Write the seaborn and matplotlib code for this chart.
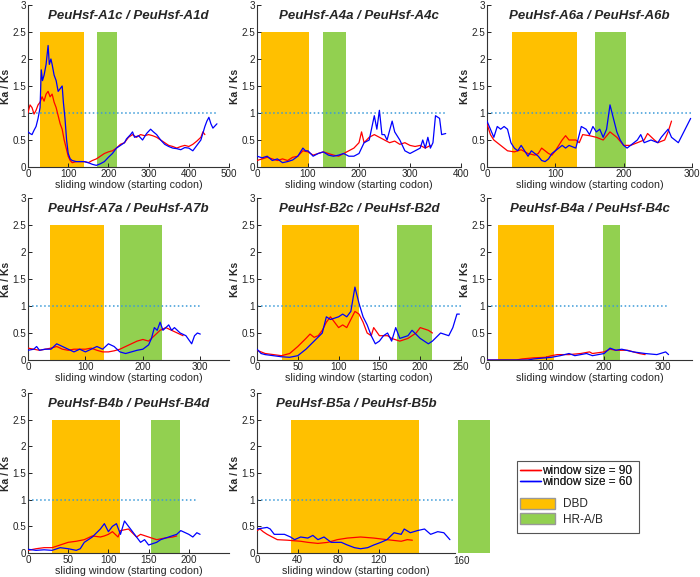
import numpy as np
import matplotlib
matplotlib.use("Agg")
import matplotlib.pyplot as plt
from matplotlib.lines import Line2D
from matplotlib.patches import Patch, Rectangle
import seaborn as sns

sns.set_style("ticks")
plt.rcParams['font.family'] = ['Liberation Sans', 'DejaVu Sans']

titles = ["PeuHsf-A1c / PeuHsf-A1d", "PeuHsf-A4a / PeuHsf-A4c", "PeuHsf-A6a / PeuHsf-A6b",
          "PeuHsf-A7a / PeuHsf-A7b", "PeuHsf-B2c / PeuHsf-B2d", "PeuHsf-B4a / PeuHsf-B4c",
          "PeuHsf-B4b / PeuHsf-B4d", "PeuHsf-B5a / PeuHsf-B5b"]

# domain regions (start, end) in codons
dbd = [(30, 140), (8, 102), (37, 132), (39, 133), (31, 125), (19, 114), (30, 114), (33, 160)]
hr = [(172, 222), (130, 174), (158, 203), (161, 233), (171, 215), (198, 227), (153, 189), (198, 229)]
xmax = [500, 400, 300, 350, 250, 350, 250, 195]
xticks = [[0, 100, 200, 300, 400, 500], [0, 100, 200, 300, 400], [0, 100, 200, 300],
          [0, 100, 200, 300], [0, 50, 100, 150, 200, 250], [0, 100, 200, 300],
          [0, 50, 100, 150, 200], [0, 40, 80, 120]]
dot_end = [470, 370, 300, 300, 250, 310, 211, 195]

# window size = 90 (red), (codon, Ka/Ks)
red = [
    [(0, 1.0), (5, 1.15), (10, 1.1), (15, 0.98), (20, 1.05), (25, 1.15), (30, 1.2), (35, 1.3),
     (40, 1.22), (45, 1.35), (50, 1.4), (55, 1.3), (60, 1.35), (65, 1.2), (70, 1.1), (75, 0.95),
     (80, 0.8), (85, 0.7), (90, 0.5), (95, 0.35), (100, 0.2), (105, 0.12), (110, 0.08), (120, 0.1),
     (130, 0.1), (140, 0.1), (150, 0.08), (160, 0.12), (170, 0.15), (180, 0.2), (190, 0.25),
     (200, 0.28), (210, 0.3), (220, 0.35), (230, 0.42), (240, 0.45), (250, 0.55), (260, 0.6),
     (270, 0.55), (280, 0.6), (290, 0.58), (300, 0.6), (310, 0.58), (320, 0.55), (330, 0.5),
     (340, 0.45), (350, 0.4), (360, 0.38), (370, 0.35), (380, 0.38), (390, 0.4), (400, 0.38),
     (410, 0.42), (420, 0.48), (430, 0.55), (435, 0.65), (440, 0.6)],
    [(0, 0.12), (10, 0.15), (20, 0.18), (30, 0.15), (40, 0.12), (50, 0.15), (60, 0.12),
     (70, 0.18), (80, 0.2), (90, 0.3), (100, 0.28), (110, 0.22), (120, 0.25), (130, 0.28),
     (140, 0.25), (150, 0.22), (160, 0.2), (170, 0.25), (180, 0.3), (190, 0.35), (200, 0.45),
     (205, 0.65), (210, 0.45), (220, 0.55), (230, 0.6), (240, 0.55), (250, 0.5), (260, 0.45),
     (270, 0.48), (280, 0.42), (290, 0.45), (300, 0.4), (310, 0.38), (320, 0.4), (330, 0.35),
     (340, 0.4)],
    [(0, 0.8), (5, 0.6), (10, 0.5), (20, 0.4), (30, 0.3), (40, 0.28), (50, 0.32), (60, 0.25),
     (70, 0.22), (75, 0.25), (80, 0.35), (90, 0.25), (95, 0.22), (100, 0.3), (105, 0.4),
     (110, 0.5), (115, 0.58), (120, 0.5), (130, 0.5), (135, 0.45), (140, 0.6), (150, 0.58),
     (160, 0.55), (170, 0.5), (180, 0.65), (190, 0.55), (200, 0.4), (210, 0.4), (220, 0.45),
     (230, 0.5), (235, 0.62), (245, 0.5), (250, 0.45), (260, 0.5), (265, 0.65), (270, 0.85)],
    [(0, 0.22), (10, 0.2), (20, 0.18), (30, 0.2), (40, 0.22), (50, 0.25), (60, 0.2), (70, 0.18),
     (80, 0.2), (90, 0.2), (100, 0.2), (110, 0.22), (120, 0.18), (130, 0.15), (140, 0.15),
     (150, 0.17), (160, 0.2), (170, 0.25), (180, 0.3), (190, 0.35), (200, 0.38), (210, 0.35),
     (220, 0.45), (230, 0.55), (240, 0.6), (250, 0.55), (260, 0.5), (270, 0.45)],
    [(0, 0.18), (10, 0.12), (20, 0.1), (30, 0.08), (40, 0.12), (50, 0.25), (60, 0.4), (65, 0.48),
     (70, 0.42), (75, 0.45), (80, 0.55), (85, 0.7), (90, 0.8), (95, 0.7), (100, 0.6), (105, 0.65),
     (110, 0.6), (115, 0.75), (120, 0.9), (125, 0.85), (130, 0.7), (135, 0.5), (140, 0.45),
     (143, 0.6), (150, 0.45), (160, 0.45), (165, 0.4), (175, 0.35), (185, 0.4), (195, 0.5),
     (200, 0.6), (210, 0.55), (215, 0.5)],
    [(0, 0.0), (50, 0.0), (60, 0.02), (80, 0.04), (100, 0.05), (110, 0.08), (120, 0.1),
     (140, 0.1), (160, 0.12), (175, 0.15), (180, 0.12), (200, 0.15), (210, 0.2), (220, 0.18),
     (240, 0.18), (250, 0.15), (260, 0.12), (270, 0.1)],
    [(0, 0.05), (10, 0.08), (20, 0.1), (30, 0.1), (40, 0.15), (50, 0.2), (60, 0.22), (70, 0.25),
     (80, 0.32), (90, 0.3), (95, 0.32), (100, 0.35), (105, 0.4), (112, 0.3), (115, 0.42),
     (125, 0.45), (135, 0.3), (140, 0.35), (150, 0.3), (160, 0.25), (170, 0.28), (180, 0.3),
     (185, 0.32)],
    [(0, 0.42), (3, 0.45), (6, 0.4), (10, 0.35), (15, 0.3), (20, 0.25), (30, 0.24), (43, 0.22),
     (50, 0.2), (60, 0.18), (70, 0.2), (79, 0.25), (89, 0.28), (102, 0.3), (115, 0.28),
     (128, 0.25), (142, 0.22), (148, 0.25), (153, 0.24)],
]

# window size = 60 (blue)
blue = [
    [(0, 0.65), (5, 0.62), (10, 0.6), (15, 0.68), (20, 0.75), (25, 0.9), (30, 1.1), (33, 1.8),
     (36, 1.6), (40, 1.7), (45, 1.9), (50, 2.25), (53, 1.9), (57, 2.0), (60, 1.9), (65, 1.7),
     (70, 1.6), (75, 1.4), (80, 1.45), (85, 1.5), (88, 1.2), (92, 0.9), (96, 0.5), (100, 0.25),
     (105, 0.15), (110, 0.12), (120, 0.1), (130, 0.1), (140, 0.1), (150, 0.08), (160, 0.05),
     (170, 0.03), (180, 0.06), (190, 0.1), (200, 0.18), (210, 0.25), (220, 0.35), (230, 0.4),
     (240, 0.45), (245, 0.52), (255, 0.6), (260, 0.65), (265, 0.55), (275, 0.58), (285, 0.5),
     (295, 0.62), (305, 0.7), (312, 0.65), (320, 0.6), (330, 0.5), (340, 0.42), (350, 0.38),
     (360, 0.35), (370, 0.34), (380, 0.32), (390, 0.36), (400, 0.35), (410, 0.3), (420, 0.4),
     (430, 0.5), (440, 0.75), (445, 0.85), (450, 0.92), (455, 0.8), (460, 0.72), (470, 0.8)],
    [(0, 0.2), (10, 0.17), (20, 0.2), (30, 0.12), (40, 0.15), (50, 0.08), (60, 0.1), (70, 0.13),
     (80, 0.2), (90, 0.35), (95, 0.3), (100, 0.3), (110, 0.2), (120, 0.25), (130, 0.28),
     (140, 0.22), (150, 0.2), (160, 0.22), (170, 0.25), (180, 0.2), (190, 0.2), (200, 0.25),
     (210, 0.45), (220, 0.5), (230, 0.95), (235, 0.7), (240, 1.05), (245, 0.6), (250, 0.6),
     (255, 0.5), (265, 0.85), (270, 0.65), (280, 0.5), (290, 0.3), (300, 0.25), (310, 0.3),
     (320, 0.35), (325, 0.5), (330, 0.35), (335, 0.55), (340, 0.35), (345, 0.45), (350, 0.95),
     (358, 0.9), (362, 0.6), (370, 0.62)],
    [(0, 0.85), (5, 0.7), (10, 0.55), (15, 0.75), (20, 0.7), (25, 0.75), (30, 0.7), (35, 0.45),
     (40, 0.35), (45, 0.3), (50, 0.4), (55, 0.3), (60, 0.2), (65, 0.3), (70, 0.25), (75, 0.2),
     (80, 0.12), (85, 0.1), (90, 0.15), (95, 0.25), (100, 0.3), (105, 0.35), (110, 0.4),
     (115, 0.35), (120, 0.4), (130, 0.35), (138, 0.75), (145, 0.7), (150, 0.6), (155, 0.75),
     (160, 0.65), (165, 0.7), (170, 0.55), (175, 0.7), (180, 1.15), (185, 0.9), (190, 0.65),
     (195, 0.5), (200, 0.4), (205, 0.35), (215, 0.45), (220, 0.5), (225, 0.6), (230, 0.45),
     (240, 0.5), (250, 0.45), (255, 0.55), (265, 0.7), (270, 0.55), (280, 0.45), (290, 0.7),
     (298, 0.9)],
    [(0, 0.18), (10, 0.2), (15, 0.25), (20, 0.18), (30, 0.2), (40, 0.2), (50, 0.3), (60, 0.25),
     (70, 0.2), (80, 0.15), (90, 0.2), (100, 0.15), (110, 0.2), (120, 0.25), (130, 0.2),
     (140, 0.3), (150, 0.25), (160, 0.15), (170, 0.12), (180, 0.15), (190, 0.18), (200, 0.2),
     (210, 0.28), (215, 0.4), (220, 0.6), (225, 0.55), (230, 0.7), (235, 0.55), (245, 0.65),
     (250, 0.55), (255, 0.6), (265, 0.5), (275, 0.45), (285, 0.3), (290, 0.45), (295, 0.5),
     (300, 0.48)],
    [(0, 0.2), (5, 0.12), (10, 0.1), (20, 0.08), (30, 0.06), (40, 0.05), (50, 0.08), (60, 0.2),
     (70, 0.35), (80, 0.5), (85, 0.8), (90, 0.75), (100, 0.8), (105, 0.85), (110, 0.8),
     (115, 0.9), (120, 1.35), (125, 1.05), (130, 0.8), (135, 0.65), (140, 0.45), (145, 0.3),
     (150, 0.35), (155, 0.45), (160, 0.5), (165, 0.35), (170, 0.6), (175, 0.4), (185, 0.45),
     (190, 0.55), (200, 0.4), (210, 0.3), (215, 0.35), (225, 0.5), (235, 0.45), (240, 0.6),
     (245, 0.85), (248, 0.85)],
    [(0, 0.0), (70, 0.0), (80, 0.02), (110, 0.05), (125, 0.08), (140, 0.12), (150, 0.08),
     (160, 0.1), (170, 0.12), (180, 0.08), (190, 0.1), (200, 0.12), (210, 0.22), (220, 0.18),
     (230, 0.2), (250, 0.15), (270, 0.12), (290, 0.1), (305, 0.15), (310, 0.1)],
    [(0, 0.07), (10, 0.05), (20, 0.06), (30, 0.05), (40, 0.1), (50, 0.08), (60, 0.05), (65, 0.08),
     (70, 0.2), (80, 0.3), (90, 0.45), (95, 0.55), (100, 0.4), (105, 0.5), (110, 0.55),
     (115, 0.35), (120, 0.6), (125, 0.5), (135, 0.3), (140, 0.2), (145, 0.25), (150, 0.15),
     (160, 0.2), (165, 0.25), (175, 0.3), (185, 0.35), (190, 0.42), (200, 0.35), (205, 0.3),
     (210, 0.38), (214, 0.35)],
    [(0, 0.45), (10, 0.48), (13, 0.45), (17, 0.35), (27, 0.35), (33, 0.3), (37, 0.25), (43, 0.3),
     (50, 0.28), (55, 0.33), (60, 0.25), (66, 0.3), (73, 0.2), (83, 0.2), (89, 0.15), (96, 0.1),
     (102, 0.08), (109, 0.1), (115, 0.15), (122, 0.2), (128, 0.25), (135, 0.38), (142, 0.35),
     (145, 0.45), (151, 0.38), (158, 0.42), (165, 0.45), (171, 0.35), (178, 0.4), (184, 0.38),
     (190, 0.25)],
]

orange = "#ffc000"
green = "#92d050"

W, H = 700, 577
fig = plt.figure(figsize=(W / 100, H / 100), dpi=100)
rows = [(5, 167), (198, 360), (393, 553)]
cols = [(28, 229), (257, 461), (487, 692)]

for i in range(8):
    r, c = divmod(i, 3)
    x0, x1 = cols[c]
    if i == 7:
        x1 = 455
    y0, y1 = rows[r]
    ax = fig.add_axes([x0 / W, 1 - y1 / H, (x1 - x0) / W, (y1 - y0) / H])
    ax.add_patch(Rectangle((dbd[i][0], 0), dbd[i][1] - dbd[i][0], 2.5, color=orange, lw=0, zorder=0))
    ax.add_patch(Rectangle((hr[i][0], 0), hr[i][1] - hr[i][0], 2.5, color=green, lw=0,
                           zorder=0, clip_on=False))
    ax.plot([0, dot_end[i]], [1, 1], ls=":", color="#3a9ad9", lw=1.1, zorder=1)
    rx, ry = zip(*red[i])
    bx, by = zip(*blue[i])
    sns.lineplot(x=list(rx), y=list(ry), ax=ax, color="#ff0000", lw=0.9, zorder=3)
    sns.lineplot(x=list(bx), y=list(by), ax=ax, color="#0000ff", lw=0.9, zorder=4)
    ax.set_xlim(0, xmax[i])
    ax.set_ylim(0, 3)
    ax.set_xticks(xticks[i])
    ax.set_yticks([0, 0.5, 1, 1.5, 2, 2.5, 3])
    ax.set_yticklabels(["0", "0.5", "1", "1.5", "2", "2.5", "3"])
    ax.tick_params(direction="in", length=3, labelsize=7.1, colors="#222222", width=0.7)
    ax.tick_params(axis="x", pad=1.5)
    ax.tick_params(axis="y", pad=1.5)
    for s in ["top", "right"]:
        ax.spines[s].set_visible(False)
    for s in ["left", "bottom"]:
        ax.spines[s].set_color("#333333")
        ax.spines[s].set_linewidth(0.8)
    ax.text(0.5, 0.93, titles[i], transform=ax.transAxes, ha="center", va="center",
            fontsize=9.5, fontweight="bold", fontstyle="italic")
    ax.set_xlabel("sliding window (starting codon)", fontsize=7.7, labelpad=0.5)
    ax.set_ylabel("Ka / Ks", fontsize=7.5, fontweight="bold")
    ax.yaxis.set_label_coords(-17 / (x1 - x0), 0.5)
    if i == 7:
        ax.annotate("160", xy=(201, 0), xycoords=("data", "axes fraction"), xytext=(0, -2.2),
                    textcoords="offset points", ha="center", va="top", fontsize=7.1,
                    color="#222222", annotation_clip=False)

# legend: box, line entries, domain entries
fig.add_artist(Rectangle((517 / W, 1 - 533 / H), 122 / W, 72 / H, transform=fig.transFigure,
                         fill=False, edgecolor="#555555", lw=0.8))
leg1 = fig.legend([Line2D([], [], color="#ff0000", lw=1), Line2D([], [], color="#0000ff", lw=1)],
                  ["window size = 90", "window size = 60"], loc="upper left",
                  bbox_to_anchor=(520 / W, 1 - 465 / H), fontsize=8.5, frameon=False,
                  handlelength=1.75, labelspacing=-0.05, borderpad=0, borderaxespad=0,
                  handletextpad=0.1)
leg2 = fig.legend([Patch(facecolor=orange, edgecolor="#999999"),
                   Patch(facecolor=green, edgecolor="#999999")], ["DBD", "HR-A/B"],
                  loc="upper left", bbox_to_anchor=(520 / W, 1 - 498 / H), fontsize=8.5,
                  frameon=False, handlelength=3.0, handleheight=1.0, labelspacing=0.25,
                  borderpad=0, borderaxespad=0, handletextpad=0.6)
fig.add_artist(leg1)

fig.savefig("out.png", dpi=100)
